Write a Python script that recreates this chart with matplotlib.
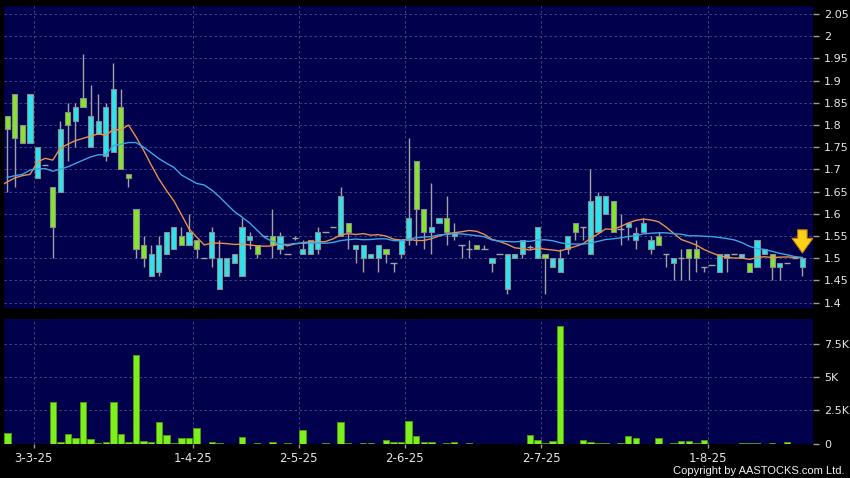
import numpy as np
import pandas as pd
import matplotlib
matplotlib.use('Agg')
import matplotlib.pyplot as plt
from matplotlib.ticker import FuncFormatter

# daily OHLC, one entry per slot on the chart (cyan = up day, green = down day)
opens = [1.82, 1.87, 1.80, 1.76, 1.68, 1.71, 1.66, 1.65, 1.83, 1.81,
         1.86, 1.75, 1.78, 1.73, 1.74, 1.84, 1.69, 1.61, 1.53, 1.46,
         1.47, 1.51, 1.52, 1.55, 1.53, 1.54, 1.50, 1.50, 1.43, 1.46,
         1.49, 1.46, 1.54, 1.53, 1.55, 1.55, 1.52, 1.51, 1.545, 1.51,
         1.51, 1.52, 1.56, 1.57, 1.55, 1.58, 1.52, 1.50, 1.50, 1.50,
         1.52, 1.49, 1.51, 1.54, 1.72, 1.61, 1.56, 1.58, 1.59, 1.55,
         1.53, 1.52, 1.53, 1.52, 1.49, 1.51, 1.43, 1.50, 1.51, 1.525,
         1.50, 1.51, 1.48, 1.47, 1.52, 1.58, 1.57, 1.51, 1.56, 1.60,
         1.63, 1.565, 1.57, 1.54, 1.56, 1.52, 1.55, 1.51, 1.49, 1.50,
         1.52, 1.52, 1.48, 1.485, 1.47, 1.50, 1.51, 1.50, 1.49, 1.48,
         1.51, 1.51, 1.48, 1.49, 1.50, 1.48]
highs = [1.82, 1.87, 1.80, 1.87, 1.75, 1.71, 1.66, 1.81, 1.85, 1.85,
         1.96, 1.89, 1.87, 1.85, 1.94, 1.88, 1.69, 1.61, 1.55, 1.53,
         1.55, 1.56, 1.57, 1.57, 1.60, 1.54, 1.50, 1.57, 1.54, 1.50,
         1.51, 1.59, 1.56, 1.53, 1.55, 1.61, 1.56, 1.51, 1.55, 1.54,
         1.54, 1.57, 1.56, 1.57, 1.66, 1.58, 1.53, 1.53, 1.51, 1.53,
         1.52, 1.49, 1.54, 1.77, 1.72, 1.61, 1.67, 1.59, 1.64, 1.58,
         1.53, 1.54, 1.53, 1.53, 1.50, 1.51, 1.51, 1.51, 1.54, 1.53,
         1.57, 1.51, 1.50, 1.52, 1.55, 1.58, 1.57, 1.70, 1.65, 1.64,
         1.63, 1.60, 1.58, 1.57, 1.59, 1.55, 1.56, 1.51, 1.50, 1.52,
         1.52, 1.54, 1.48, 1.485, 1.51, 1.51, 1.51, 1.51, 1.49, 1.54,
         1.52, 1.51, 1.49, 1.49, 1.50, 1.50]
lows = [1.65, 1.66, 1.76, 1.76, 1.68, 1.71, 1.50, 1.65, 1.72, 1.75,
        1.84, 1.75, 1.78, 1.72, 1.74, 1.70, 1.66, 1.50, 1.48, 1.46,
        1.46, 1.51, 1.52, 1.53, 1.53, 1.50, 1.50, 1.48, 1.43, 1.46,
        1.49, 1.46, 1.52, 1.50, 1.55, 1.50, 1.51, 1.51, 1.54, 1.51,
        1.51, 1.51, 1.56, 1.57, 1.55, 1.52, 1.49, 1.47, 1.50, 1.47,
        1.49, 1.47, 1.50, 1.53, 1.53, 1.52, 1.51, 1.58, 1.53, 1.54,
        1.50, 1.50, 1.52, 1.52, 1.47, 1.51, 1.42, 1.50, 1.50, 1.52,
        1.50, 1.42, 1.48, 1.47, 1.51, 1.54, 1.54, 1.51, 1.56, 1.60,
        1.56, 1.53, 1.54, 1.52, 1.56, 1.51, 1.53, 1.48, 1.45, 1.45,
        1.45, 1.47, 1.47, 1.485, 1.47, 1.47, 1.51, 1.50, 1.47, 1.48,
        1.51, 1.45, 1.45, 1.49, 1.50, 1.46]
closes = [1.79, 1.77, 1.76, 1.87, 1.75, 1.71, 1.57, 1.79, 1.80, 1.84,
          1.84, 1.82, 1.81, 1.84, 1.88, 1.70, 1.68, 1.52, 1.50, 1.51,
          1.53, 1.56, 1.57, 1.53, 1.56, 1.52, 1.50, 1.56, 1.50, 1.50,
          1.51, 1.57, 1.55, 1.51, 1.55, 1.53, 1.55, 1.51, 1.545, 1.52,
          1.54, 1.56, 1.56, 1.57, 1.64, 1.56, 1.53, 1.53, 1.51, 1.53,
          1.51, 1.49, 1.54, 1.59, 1.61, 1.56, 1.57, 1.59, 1.56, 1.556,
          1.53, 1.52, 1.52, 1.52, 1.50, 1.51, 1.51, 1.51, 1.54, 1.525,
          1.57, 1.50, 1.50, 1.50, 1.55, 1.56, 1.57, 1.63, 1.64, 1.64,
          1.56, 1.565, 1.58, 1.557, 1.58, 1.54, 1.53, 1.51, 1.50, 1.50,
          1.50, 1.50, 1.48, 1.485, 1.51, 1.51, 1.51, 1.51, 1.47, 1.54,
          1.52, 1.48, 1.49, 1.49, 1.50, 1.50]
volumes = [800, 0, 0, 0, 0, 0, 3100, 80, 750, 400,
           3150, 350, 20, 120, 3100, 680, 80, 6700, 220, 120,
           1600, 620, 20, 420, 420, 1200, 0, 120, 50, 0,
           0, 500, 0, 20, 0, 80, 0, 50, 0, 980,
           0, 0, 50, 0, 1600, 50, 0, 50, 50, 0,
           300, 150, 150, 1720, 580, 120, 120, 0, 50, 100,
           0, 30, 0, 0, 0, 0, 0, 0, 0, 620,
           300, 50, 180, 8850, 0, 0, 300, 100, 50, 50,
           0, 50, 600, 450, 0, 0, 450, 0, 50, 200,
           200, 50, 300, 0, 0, 0, 0, 30, 30, 30,
           0, 30, 0, 150, 0, 0]
# closes before the first slot (oldest first), only to seed the moving averages
prev_closes = [1.69, 1.70, 1.68, 1.70, 1.69, 1.69, 1.70, 1.69, 1.69, 1.69,
               1.68, 1.71, 1.84, 1.47, 1.63, 1.61, 1.52, 1.71, 1.76]

date_labels = ['3-3-25', '1-4-25', '2-5-25', '2-6-25', '2-7-25', '1-8-25']
date_slots = [3.5, 24.5, 38.5, 52.5, 70.5, 92.5]

BG = '#00004c'
GRID = '#434d86'
UP = '#2de4ee'
DOWN = '#84e52c'
WICK = '#a2a2a2'

o = np.array(opens)
h = np.array(highs)
l = np.array(lows)
c = np.array(closes)
x = np.arange(len(c))

allc = pd.Series(prev_closes + closes)
n0 = len(prev_closes)
ma10 = allc.rolling(10).mean().to_numpy()[n0 - 1:]
ma20 = allc.rolling(20).mean().to_numpy()[n0 - 1:]
xm = np.arange(-1, len(c))

fig = plt.figure(figsize=(8.5, 4.78), dpi=100, facecolor='black')
ax = fig.add_axes([4/850, 1-308/478, 809/850, 302/478])
axv = fig.add_axes([4/850, 1-443.5/478, 809/850, 124.5/478])

for a in (ax, axv):
    a.set_facecolor(BG)
    for s in a.spines.values():
        s.set_visible(False)
    a.set_xlim(-0.44, 106.4)
    a.set_xticks(date_slots)
    a.grid(True, color=GRID, linestyle=(0, (3, 3)), linewidth=0.6)
    a.set_axisbelow(True)
    a.yaxis.tick_right()
    a.tick_params(axis='y', colors='#9a9a9a', labelcolor='#e6e6e6', length=4,
                  width=1, pad=4, labelsize=8)

# candles
ax.vlines(x, l, h, color=WICK, linewidth=1, zorder=2)
up = c > o
dn = c < o
flat = c == o
ax.bar(x[up], (c - o)[up], bottom=o[up], width=0.68, color=UP,
       edgecolor='#8c8c8c', linewidth=0.8, zorder=3)
ax.bar(x[dn], (o - c)[dn], bottom=c[dn], width=0.68, color=DOWN,
       edgecolor='#8c8c8c', linewidth=0.8, zorder=3)
ax.hlines(c[flat], x[flat] - 0.42, x[flat] + 0.42, color=WICK, linewidth=1, zorder=3)

ax.plot(xm, ma10, color='#e8904c', linewidth=1.0, zorder=4)
ax.plot(xm, ma20, color='#3aa6e6', linewidth=1.0, zorder=4)

ax.annotate('', xy=(x[-1], h[-1] + 0.012), xytext=(x[-1], h[-1] + 0.064),
            arrowprops=dict(arrowstyle='simple,head_length=0.7,head_width=1.0,tail_width=0.45',
                            fc='#ffd21a', ec='#d08000', lw=0.8, mutation_scale=15,
                            shrinkA=0, shrinkB=0), zorder=6)

ax.set_ylim(1.388, 2.068)
ax.set_yticks(np.arange(1.4, 2.0501, 0.05))
ax.yaxis.set_major_formatter(FuncFormatter(lambda v, p: f'{round(v, 2):g}'))
ax.tick_params(axis='x', length=0, labelbottom=False)

# volume
axv.bar(x, volumes, width=0.85, color='#7cf01c', edgecolor='#4e9414', linewidth=0.7, zorder=3)
axv.set_ylim(0, 9375)
axv.set_yticks([0, 2500, 5000, 7500])
axv.yaxis.set_major_formatter(FuncFormatter(lambda v, p: '0' if v == 0 else f'{v/1000:g}K'))
axv.set_xticklabels(date_labels)
axv.tick_params(axis='x', colors='#9a9a9a', labelcolor='#e6e6e6', length=3,
                width=1, pad=3, labelsize=8.5)

fig.text(0.994, 1-471/478, 'Copyright by AASTOCKS.com Ltd.', ha='right', va='center',
         color='#f0f0f0', fontsize=8, family='Liberation Sans')

fig.savefig('out.png', dpi=100, facecolor='black')
